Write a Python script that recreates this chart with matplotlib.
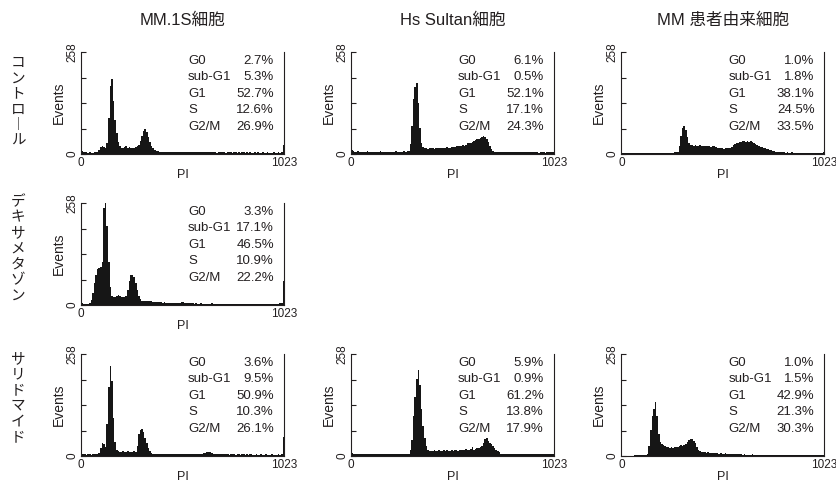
#!/usr/bin/env python3
"""Histogramas de ciclo celular (PI) - MM.1S / Hs Sultan / MM patient cells."""

import numpy as np
import matplotlib
matplotlib.use("Agg")
import matplotlib.pyplot as plt  # noqa: E402

plt.rcParams["font.family"] = ["Liberation Sans", "Noto Sans CJK JP", "DejaVu Sans"]

col_titles = ["MM.1S細胞", "Hs Sultan細胞", "MM 患者由来細胞"]
row_titles = ["コントロール", "デキサメタゾン", "サリドマイド"]
phase_names = ["G0", "sub-G1", "G1", "S", "G2/M"]

# counts per 8-channel bin (128 bins over PI channels 0..1023)
mm1s_ctrl = [
    8, 5, 4, 4, 3, 4, 3, 3, 4, 4, 5, 9, 17, 21, 18, 14,
    28, 90, 172, 190, 135, 85, 52, 30, 19, 16, 14, 17, 19, 15, 18, 16,
    14, 15, 17, 19, 23, 33, 46, 58, 63, 56, 43, 31, 21, 14, 10, 8,
    7, 6, 6, 5, 6, 5, 5, 6, 5, 4, 5, 5, 6, 5, 5, 4,
    5, 4, 5, 5, 4, 4, 5, 4, 5, 4, 4, 5, 4, 4, 4, 5,
    4, 4, 5, 4, 4, 3, 4, 4, 5, 4, 4, 3, 4, 4, 4, 3,
    4, 4, 3, 4, 3, 4, 4, 3, 4, 3, 4, 3, 3, 4, 3, 4,
    3, 3, 4, 3, 3, 4, 3, 3, 3, 4, 3, 3, 4, 3, 5, 23,
]
hs_ctrl = [
    9, 7, 6, 6, 7, 5, 6, 6, 5, 6, 7, 5, 6, 5, 6, 6,
    5, 6, 7, 5, 6, 5, 6, 6, 5, 6, 5, 6, 7, 6, 5, 6,
    6, 7, 6, 7, 8, 25, 70, 140, 170, 179, 130, 65, 28, 18, 15, 14,
    13, 14, 15, 14, 13, 15, 14, 16, 15, 14, 16, 15, 17, 16, 15, 17,
    18, 17, 19, 20, 19, 21, 22, 21, 24, 27, 29, 28, 31, 33, 35, 37,
    39, 41, 44, 46, 44, 38, 30, 20, 12, 8, 6, 5, 5, 5, 4, 5,
    4, 5, 4, 5, 4, 4, 5, 4, 4, 5, 4, 4, 4, 5, 4, 4,
    4, 4, 5, 4, 4, 4, 3, 4, 4, 4, 3, 4, 4, 4, 4, 6,
]
mmpt_ctrl = [
    3, 3, 2, 3, 2, 3, 3, 2, 3, 3, 2, 3, 3, 3, 2, 3,
    3, 2, 3, 3, 3, 2, 3, 3, 3, 3, 2, 3, 3, 3, 3, 3,
    3, 4, 4, 5, 20, 45, 65, 72, 60, 42, 28, 23, 22, 21, 22, 20,
    21, 22, 20, 21, 19, 20, 21, 19, 18, 20, 19, 17, 16, 15, 14, 14,
    13, 14, 14, 15, 16, 18, 22, 25, 27, 29, 30, 31, 33, 32, 30, 33,
    31, 33, 30, 28, 25, 23, 20, 18, 17, 15, 14, 13, 12, 11, 10, 8,
    7, 6, 6, 5, 4, 4, 4, 3, 4, 3, 3, 4, 3, 3, 3, 3,
    3, 3, 3, 3, 3, 3, 2, 3, 3, 3, 3, 3, 2, 3, 3, 4,
]
mm1s_dex = [
    4, 3, 3, 3, 3, 6, 12, 30, 55, 76, 90, 93, 95, 110, 245, 258,
    200, 110, 45, 22, 19, 20, 23, 25, 22, 21, 20, 19, 24, 38, 60, 75,
    77, 70, 55, 38, 22, 14, 11, 10, 10, 9, 10, 9, 9, 8, 8, 7,
    8, 7, 7, 6, 7, 6, 6, 5, 6, 5, 5, 6, 5, 5, 6, 7,
    7, 6, 6, 5, 4, 4, 4, 3, 4, 3, 3, 4, 3, 3, 3, 3,
    3, 3, 4, 3, 3, 3, 3, 2, 3, 3, 3, 3, 2, 3, 3, 3,
    3, 3, 2, 3, 3, 3, 3, 2, 3, 3, 3, 2, 3, 3, 3, 3,
    3, 2, 3, 3, 3, 3, 2, 3, 3, 3, 3, 3, 3, 4, 5, 61,
]
mm1s_thal = [
    5, 4, 4, 3, 4, 4, 3, 4, 4, 4, 5, 8, 20, 33, 30, 22,
    80, 175, 227, 190, 95, 35, 15, 12, 11, 10, 12, 11, 10, 13, 11, 10,
    11, 12, 11, 25, 55, 66, 68, 60, 45, 32, 20, 12, 8, 6, 5, 5,
    5, 4, 4, 5, 4, 4, 4, 5, 4, 4, 4, 4, 5, 4, 4, 4,
    4, 4, 5, 4, 4, 4, 4, 5, 4, 4, 5, 5, 6, 7, 8, 9,
    11, 10, 8, 6, 5, 4, 4, 5, 4, 4, 4, 4, 4, 3, 4, 4,
    4, 3, 4, 4, 3, 4, 4, 3, 4, 3, 4, 4, 3, 3, 4, 3,
    3, 4, 3, 3, 4, 3, 3, 3, 4, 3, 3, 3, 4, 3, 6, 47,
]
hs_thal = [
    7, 6, 6, 5, 5, 6, 5, 5, 4, 5, 5, 4, 5, 4, 4, 5,
    4, 5, 4, 4, 5, 4, 4, 5, 4, 4, 5, 4, 4, 5, 4, 4,
    4, 5, 4, 4, 5, 15, 40, 100, 150, 195, 217, 180, 120, 75, 45, 25,
    16, 13, 12, 13, 14, 12, 13, 14, 12, 13, 15, 13, 14, 12, 13, 14,
    13, 15, 14, 13, 15, 16, 14, 15, 17, 16, 15, 18, 22, 16, 17, 19,
    21, 23, 26, 32, 43, 46, 38, 33, 30, 25, 21, 16, 12, 9, 6, 5,
    4, 4, 5, 4, 4, 4, 5, 4, 4, 4, 4, 5, 4, 4, 4, 4,
    4, 4, 4, 5, 4, 4, 4, 4, 4, 5, 4, 4, 4, 4, 4, 5,
]
mmpt_thal = [
    1, 1, 0, 1, 1, 0, 1, 1, 2, 2, 2, 3, 2, 2, 3, 2,
    5, 25, 65, 100, 120, 136, 100, 55, 36, 30, 27, 26, 24, 22, 21, 22,
    21, 23, 22, 24, 25, 27, 26, 28, 30, 35, 40, 43, 42, 38, 32, 22,
    16, 12, 10, 9, 9, 8, 9, 8, 8, 7, 8, 7, 7, 6, 7, 6,
    6, 7, 6, 5, 6, 5, 5, 4, 5, 4, 4, 4, 3, 4, 3, 3,
    3, 3, 4, 3, 3, 3, 3, 2, 3, 3, 3, 3, 2, 3, 3, 3,
    3, 3, 3, 2, 3, 3, 3, 3, 2, 3, 3, 3, 3, 2, 3, 3,
    3, 2, 3, 3, 3, 2, 3, 3, 3, 3, 2, 3, 3, 3, 3, 3,
]

# phase percentages (G0, sub-G1, G1, S, G2/M)
pct_mm1s_ctrl = [2.7, 5.3, 52.7, 12.6, 26.9]
pct_hs_ctrl = [6.1, 0.5, 52.1, 17.1, 24.3]
pct_mmpt_ctrl = [1.0, 1.8, 38.1, 24.5, 33.5]
pct_mm1s_dex = [3.3, 17.1, 46.5, 10.9, 22.2]
pct_mm1s_thal = [3.6, 9.5, 50.9, 10.3, 26.1]
pct_hs_thal = [5.9, 0.9, 61.2, 13.8, 17.9]
pct_mmpt_thal = [1.0, 1.5, 42.9, 21.3, 30.3]

panels = {
    (0, 0): (mm1s_ctrl, pct_mm1s_ctrl),
    (0, 1): (hs_ctrl, pct_hs_ctrl),
    (0, 2): (mmpt_ctrl, pct_mmpt_ctrl),
    (1, 0): (mm1s_dex, pct_mm1s_dex),
    (2, 0): (mm1s_thal, pct_mm1s_thal),
    (2, 1): (hs_thal, pct_hs_thal),
    (2, 2): (mmpt_thal, pct_mmpt_thal),
}

W, H = 837, 482
INK = "#231f20"
col_left = [81, 351, 621.5]
row_top = [52, 203, 354]
ax_w, ax_h = 203, 102

fig = plt.figure(figsize=(W / 100, H / 100), dpi=100)

for (r, c), (counts, pct) in panels.items():
    ax = fig.add_axes([col_left[c] / W, 1 - (row_top[r] + ax_h) / H, ax_w / W, ax_h / H])
    edges = np.linspace(0, 1024, len(counts) + 1)
    steps = np.append(counts, counts[-1])
    ax.fill_between(edges, steps, 0, step="post", facecolor="#161616",
                    edgecolor="none", lw=0)
    ax.set_xlim(0, 1023)
    ax.set_ylim(0, 258)
    ax.spines["top"].set_visible(False)
    for s in ("left", "bottom", "right"):
        ax.spines[s].set_linewidth(0.8)
        ax.spines[s].set_color(INK)
    ax.set_yticks([0, 64.5, 129, 193.5, 258])
    ax.set_yticklabels(["0", "", "", "", "258"], rotation=90, va="center")
    ax.tick_params(axis="y", direction="in", length=3.5, width=0.8, pad=2,
                   labelsize=8.5, colors=INK)
    ax.set_xticks([0, 1023])
    ax.set_xticklabels(["0", "1023"])
    ax.tick_params(axis="x", length=0, pad=2.5, labelsize=8.5, colors=INK)
    ax.set_ylabel("Events", fontsize=10, labelpad=0.5, color=INK)
    ax.set_xlabel("PI", fontsize=9, labelpad=-0.5, color=INK)
    for k, (name, v) in enumerate(zip(phase_names, pct)):
        y = 0.913 - k * 0.162
        ax.text(0.527, y, name, transform=ax.transAxes, fontsize=9.5,
                ha="left", va="center", color=INK)
        ax.text(0.951, y, f"{v:.1f}%", transform=ax.transAxes, fontsize=9.5,
                ha="right", va="center", color=INK)

for c, t in enumerate(col_titles):
    fig.text((col_left[c] + ax_w / 2) / W, 1 - 20 / H, t, ha="center", va="center",
             fontsize=12, color=INK)

row_centers = [102, 249, 398]
for r, t in enumerate(row_titles):
    vert = "\n".join("︱" if ch == "ー" else ch for ch in t)
    fig.text(18 / W, 1 - row_centers[r] / H, vert, ha="center", va="center",
             fontsize=10.5, linespacing=1.15, color=INK)

fig.savefig("out.png", dpi=100)
